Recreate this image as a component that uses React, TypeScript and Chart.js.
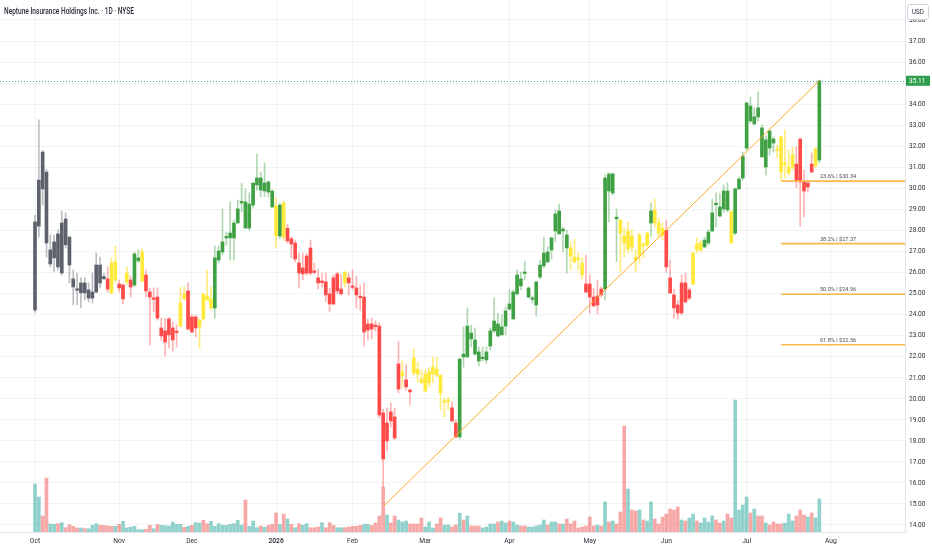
import React, { useEffect, useRef } from 'react';
import { Chart, registerables } from 'chart.js';

Chart.register(...registerables);

const TITLE = 'Neptune Insurance Holdings Inc. · 1D · NYSE';

const opens = [
  24.21, 28.2, 31.72, 30.77, 26.4, 26.69, 27.83, 25.97, 28.54, 27.68,
  25.69, 25.2, 25.03, 25.5, 24.78, 24.78, 25.07, 26.35, 25.8, 25.69,
  26.45, 25.64, 25.45, 25.4, 25.55, 25.64, 25.4, 26.55, 26.97, 25.88,
  25.07, 24.78, 24.83, 23.36, 23.22, 23.79, 23.36, 23.2, 23.45, 24.74,
  25.12, 23.88, 23.88, 23.74, 23.79, 24.69, 24.74, 24.31, 26.59, 26.97,
  27.64, 27.64, 27.64, 28.35, 29.3, 28.11, 28.11, 29.2, 30.16, 29.92,
  29.87, 29.82, 29.11, 29.16, 27.73, 29.3, 28.1, 27.6, 27.4, 26.45,
  26.21, 26.78, 27.16, 26.05, 25.74, 25.58, 25.55, 24.98, 25.74, 25.93,
  25.21, 25.5, 25.74, 25.33, 25.26, 24.86, 24.83, 23.55, 23.55, 23.48,
  23.45, 19.32, 18.84, 19.37, 19.13, 21.65, 21.08, 20.89, 20.41, 21.22,
  21.41, 20.93, 20.36, 20.75, 21.17, 21.41, 21.12, 19.86, 19.87, 19.56,
  18.84, 18.18, 21.98, 21.98, 22.84, 22.12, 21.79, 21.9, 21.84, 22.5,
  23.22, 22.98, 23.03, 23.45, 24.26, 23.79, 24.98, 25.36, 25.95, 24.83,
  24.72, 24.45, 25.78, 26.31, 26.5, 27.07, 27.97, 27.83, 27.97, 27.16,
  27.16, 26.73, 26.66, 26.45, 25.45, 25.45, 24.83, 24.88, 25.21, 25.21,
  29.87, 29.78, 28.55, 28.49, 27.73, 27.11, 27.73, 26.73, 26.83, 27.32,
  27.3, 28.35, 28.97, 28.35, 28.1, 28.0, 25.74, 24.93, 24.45, 25.5,
  25.5, 25.17, 25.45, 27.07, 27.4, 27.21, 27.4, 27.97, 29.22, 28.68,
  29.02, 28.97, 28.87, 27.87, 29.97, 30.49, 31.91, 33.2, 33.06, 33.39,
  31.49, 31.01, 31.91, 32.15, 31.84, 32.44, 31.17, 31.01, 31.01, 31.15,
  32.34, 30.3, 30.25, 31.15, 31.06, 31.34,
];

const highs = [
  28.73, 33.25, 31.8, 30.9, 27.78, 27.78, 28.02, 28.92, 28.83, 27.7,
  26.12, 25.97, 25.74, 25.74, 25.5, 25.97, 26.92, 26.73, 25.97, 26.26,
  26.69, 27.26, 25.64, 25.45, 26.26, 25.83, 26.97, 27.07, 27.16, 26.12,
  25.26, 25.26, 25.26, 23.83, 23.83, 23.88, 23.64, 23.5, 25.31, 25.31,
  25.5, 23.98, 23.98, 23.79, 24.98, 26.12, 25.31, 27.26, 27.26, 29.02,
  27.92, 29.35, 28.49, 29.44, 30.25, 29.97, 29.78, 30.25, 31.63, 30.77,
  31.2, 30.35, 29.92, 29.54, 29.3, 29.4, 28.3, 27.7, 27.54, 26.92,
  26.92, 26.92, 27.54, 26.45, 26.16, 25.97, 25.97, 25.26, 25.88, 26.02,
  25.88, 26.02, 25.97, 26.12, 25.83, 25.4, 25.5, 23.79, 23.83, 23.7,
  23.6, 19.5, 19.56, 19.79, 19.56, 22.74, 21.79, 21.6, 20.46, 22.36,
  21.74, 21.36, 21.36, 21.46, 21.98, 21.98, 21.12, 20.03, 20.08, 19.84,
  18.99, 21.93, 23.41, 24.31, 23.5, 23.36, 22.46, 22.46, 22.46, 23.36,
  24.79, 24.07, 23.98, 24.36, 25.17, 25.17, 26.12, 26.02, 26.54, 25.31,
  24.88, 25.55, 26.59, 27.68, 27.21, 27.68, 28.97, 29.25, 28.16, 28.02,
  27.45, 27.59, 26.92, 26.69, 26.83, 25.88, 25.26, 25.64, 25.31, 30.63,
  30.73, 30.73, 29.02, 28.49, 28.11, 28.4, 28.02, 27.07, 27.87, 27.4,
  27.92, 29.3, 29.49, 28.59, 28.35, 28.49, 26.59, 25.21, 24.69, 25.88,
  25.97, 25.26, 26.97, 27.64, 27.54, 27.68, 28.02, 29.49, 29.78, 29.73,
  30.16, 30.25, 28.97, 30.02, 30.54, 31.72, 34.1, 34.34, 33.82, 34.58,
  33.01, 32.49, 32.77, 32.44, 32.06, 32.49, 32.77, 31.82, 31.96, 31.96,
  32.39, 30.87, 30.39, 31.68, 31.92, 35.15,
];

const lows = [
  24.1, 27.68, 29.2, 26.73, 26.26, 26.02, 26.12, 25.88, 27.16, 25.5,
  24.45, 24.45, 24.31, 24.69, 24.6, 24.55, 25.03, 25.26, 25.64, 25.07,
  24.98, 25.55, 25.07, 24.5, 25.4, 24.83, 25.31, 26.45, 25.55, 24.83,
  22.55, 24.12, 23.74, 22.79, 22.03, 22.41, 22.26, 22.45, 23.41, 24.69,
  23.26, 23.12, 22.93, 22.41, 23.74, 24.69, 24.21, 23.83, 26.45, 26.83,
  27.3, 26.59, 26.59, 28.35, 28.87, 28.11, 28.02, 29.06, 29.9, 29.59,
  29.6, 29.59, 29.11, 27.16, 27.6, 27.5, 27.4, 26.7, 26.5, 25.26,
  25.64, 25.88, 25.88, 25.93, 25.21, 25.31, 24.6, 24.12, 24.45, 24.98,
  24.93, 25.31, 24.93, 25.17, 24.31, 24.21, 22.5, 22.79, 22.84, 23.2,
  19.1, 15.8, 17.52, 18.65, 18.04, 20.27, 20.51, 20.41, 19.7, 21.12,
  20.79, 20.75, 20.32, 20.55, 20.75, 21.03, 19.46, 19.13, 19.46, 18.89,
  18.13, 18.08, 21.5, 21.98, 22.46, 22.07, 21.55, 21.79, 21.69, 22.31,
  23.12, 22.93, 23.03, 23.03, 24.21, 23.74, 24.93, 25.17, 25.64, 24.79,
  24.55, 23.93, 25.69, 26.21, 26.45, 26.64, 27.45, 27.83, 26.97, 25.97,
  26.12, 26.45, 26.12, 25.69, 25.02, 24.07, 24.36, 24.02, 24.83, 24.69,
  28.4, 29.68, 26.5, 26.02, 26.73, 26.92, 26.97, 26.02, 26.45, 26.69,
  27.21, 27.7, 28.16, 27.68, 27.54, 26.02, 25.02, 23.83, 23.79, 23.98,
  24.55, 24.69, 25.4, 26.92, 26.97, 27.16, 27.3, 27.92, 28.16, 28.64,
  28.87, 28.87, 27.4, 27.78, 29.92, 30.39, 31.82, 33.1, 33.01, 33.2,
  31.49, 30.63, 31.58, 31.72, 31.44, 30.39, 30.49, 30.63, 30.87, 30.01,
  28.21, 28.64, 29.82, 30.73, 30.99, 31.2,
];

const closes = [
  28.4, 30.39, 29.97, 27.4, 27.07, 27.45, 26.26, 28.35, 27.31, 26.35,
  25.31, 25.15, 25.5, 25.03, 25.17, 25.07, 26.35, 25.5, 25.7, 25.21,
  25.03, 26.5, 25.26, 24.74, 25.97, 25.31, 26.88, 26.69, 25.59, 25.12,
  24.83, 24.72, 23.83, 22.98, 22.69, 23.03, 22.79, 23.14, 24.55, 24.98,
  23.31, 23.17, 23.36, 23.41, 24.98, 24.88, 24.31, 26.69, 27.02, 27.45,
  27.7, 27.87, 28.35, 29.02, 29.38, 29.35, 29.25, 30.25, 30.49, 30.49,
  30.25, 30.3, 29.87, 27.73, 29.2, 27.68, 27.5, 27.35, 26.64, 25.97,
  25.93, 25.97, 25.97, 26.0, 25.5, 25.52, 24.93, 24.5, 24.5, 25.12,
  24.98, 26.02, 25.5, 25.29, 24.93, 24.8, 23.17, 23.26, 23.31, 23.42,
  19.22, 17.13, 17.99, 18.94, 18.13, 20.46, 21.27, 20.56, 20.32, 21.93,
  21.17, 20.75, 21.17, 21.27, 21.5, 21.12, 20.27, 19.82, 19.91, 18.94,
  18.18, 21.88, 22.12, 23.45, 23.12, 22.79, 22.22, 21.96, 22.22, 23.22,
  23.69, 23.55, 23.41, 24.17, 24.5, 25.07, 25.88, 25.69, 25.99, 25.26,
  24.76, 25.55, 26.35, 26.92, 26.97, 27.64, 28.78, 28.92, 28.06, 27.78,
  26.78, 26.5, 26.62, 25.88, 25.07, 24.83, 24.41, 24.45, 24.93, 30.49,
  30.68, 30.68, 28.63, 27.87, 27.4, 27.97, 27.21, 26.59, 27.78, 27.28,
  27.87, 28.92, 28.35, 27.87, 27.75, 26.26, 25.02, 24.31, 24.07, 24.07,
  24.6, 24.78, 26.92, 27.35, 27.07, 27.54, 27.92, 28.83, 29.28, 29.11,
  29.87, 29.87, 27.4, 29.97, 30.44, 31.53, 34.05, 33.91, 33.39, 33.82,
  32.87, 32.3, 32.72, 32.34, 31.8, 30.77, 31.13, 30.73, 31.58, 30.35,
  30.3, 29.87, 30.06, 30.77, 31.87, 35.11,
];

// candle colour runs: k = grey, r = red, y = yellow, g = green
const colorRuns: [string, number][] = [
  ['k', 19], ['r', 1], ['y', 2], ['r', 2], ['y', 1], ['r', 1], ['g', 2], ['y', 1],
  ['r', 9], ['y', 2], ['r', 3], ['y', 4], ['g', 16], ['y', 1], ['g', 1], ['y', 1],
  ['r', 15], ['y', 1], ['r', 14], ['y', 1], ['r', 2], ['y', 10], ['r', 2], ['g', 29],
  ['y', 4], ['r', 5], ['g', 4], ['y', 8], ['g', 1], ['y', 3], ['r', 7], ['y', 3],
  ['g', 7], ['y', 1], ['g', 11], ['y', 5], ['r', 5], ['y', 1], ['g', 1],
];

// volume (thousand shares)
const volumes = [
  480, 350, 160, 540, 80, 77, 83, 93, 43, 73,
  57, 40, 40, 33, 33, 67, 83, 67, 67, 60,
  57, 57, 77, 107, 40, 50, 57, 23, 23, 27,
  67, 33, 77, 67, 63, 60, 100, 77, 77, 47,
  57, 67, 93, 90, 117, 83, 107, 57, 83, 67,
  67, 77, 83, 117, 70, 320, 57, 110, 43, 60,
  50, 67, 77, 190, 77, 180, 130, 77, 43, 83,
  67, 83, 43, 43, 50, 93, 43, 93, 67, 43,
  43, 43, 50, 57, 57, 67, 77, 77, 67, 90,
  160, 450, 170, 90, 160, 120, 100, 110, 80, 80,
  80, 140, 50, 100, 40, 80, 140, 70, 70, 50,
  70, 190, 120, 160, 60, 60, 60, 40, 50, 80,
  80, 100, 110, 90, 110, 100, 70, 60, 60, 50,
  50, 60, 70, 120, 70, 100, 100, 80, 80, 130,
  80, 110, 40, 50, 60, 150, 60, 70, 60, 300,
  100, 110, 80, 200, 1060, 430, 220, 210, 220, 120,
  110, 300, 130, 80, 150, 180, 230, 220, 250, 120,
  110, 140, 180, 110, 90, 140, 100, 160, 120, 90,
  110, 180, 140, 1320, 220, 270, 350, 190, 230, 160,
  160, 90, 70, 100, 80, 80, 90, 180, 110, 160,
  220, 170, 150, 190, 140, 330,
];

// u = up-volume, d = down-volume
const volumeDir = [
  'uudduududd', 'dduduuuddd', 'duduuuuuud', 'duduuuuuud', 'uduudduuuu',
  'uuuuuduuud', 'udddududud', 'uudddudddu', 'uddddduudd', 'ddudduuudd',
  'dduuudduud', 'dududdduuu', 'uduuduuddu', 'uuuuduudud', 'dddddddudu',
  'duddduddud', 'uudddddddu', 'duuduuuudd', 'udduuuudud', 'dudddduuud',
  'dduduu',
].join('');

const monthTicks = [0, 22, 41, 63, 83, 102, 124, 145, 165, 186, 208];
const monthLabels = ['Oct', 'Nov', 'Dec', '2026', 'Feb', 'Mar', 'Apr', 'May', 'Jun', 'Jul', 'Aug'];
const priceTicks = [14, 15, 16, 17, 18, 19, 20, 21, 22, 23, 24, 25, 26, 27, 28, 29, 30, 31, 32, 33, 34, 35, 36, 37, 38];

const fibPcts = ['23.6%', '38.2%', '50.0%', '61.8%'];
const fibPrices = [30.34, 27.37, 24.96, 22.56];
const fibStartIndex = 195;

const trendIndex = [91, 205];
const trendPrice = [14.87, 35.11];

const lastPrice = 35.11;

const X_MIN = -9.15;
const X_MAX = 227.39;
const Y_MIN = 13.66;
const Y_MAX = 38.95;
const VOL_MAX = 5320;

const BODY: Record<string, string> = { k: '#5d616c', r: '#ff4a4a', y: '#ffe93b', g: '#40a144' };
const WICK: Record<string, string> = {
  k: 'rgba(93,97,108,0.42)',
  r: 'rgba(255,74,74,0.42)',
  y: 'rgba(255,222,40,0.6)',
  g: 'rgba(64,161,68,0.42)',
};

const candleColors: string[] = [];
colorRuns.forEach(([c, n]) => {
  for (let k = 0; k < n; k++) candleColors.push(c);
});

const GRID = 'rgba(42,46,57,0.06)';

function drawText(
  ctx: CanvasRenderingContext2D,
  s: string,
  x: number,
  y: number,
  font: string,
  color: string,
  align: CanvasTextAlign,
  squeeze = 0.86,
  baseline: CanvasTextBaseline = 'middle'
) {
  ctx.font = font;
  ctx.fillStyle = color;
  ctx.textAlign = align;
  ctx.textBaseline = baseline;
  const w = ctx.measureText(s).width;
  ctx.fillText(s, x, y, w * squeeze);
}

const overlayPlugin = {
  id: 'overlay',
  beforeDatasetsDraw(chart: any) {
    const { ctx, chartArea, scales } = chart;
    const ly = Math.round(scales.y.getPixelForValue(lastPrice)) + 0.5;
    ctx.save();
    ctx.strokeStyle = '#3fb0a3';
    ctx.lineWidth = 1;
    ctx.setLineDash([1, 2]);
    ctx.beginPath();
    ctx.moveTo(chartArea.left, ly);
    ctx.lineTo(chartArea.right, ly);
    ctx.stroke();
    ctx.restore();
  },
  afterDraw(chart: any) {
    const { ctx, chartArea, scales } = chart;
    const xs = scales.x;
    const ys = scales.y;
    ctx.save();

    // title
    ctx.font = '500 8.6px Roboto';
    ctx.fillStyle = '#2a2e39';
    ctx.textAlign = 'left';
    ctx.textBaseline = 'middle';
    ctx.fillText(TITLE, 4, 11.5, 130);

    // price axis labels
    const axisX = chartArea.right + 4;
    priceTicks.forEach((v) => {
      drawText(ctx, v.toFixed(2), axisX, ys.getPixelForValue(v), '7.6px Roboto', '#2a2e39', 'left', 0.86);
    });

    // month labels
    monthTicks.forEach((t, i) => {
      const bold = monthLabels[i] === '2026';
      drawText(
        ctx,
        monthLabels[i],
        xs.getPixelForValue(t),
        chartArea.bottom + 9,
        (bold ? '600 ' : '') + '7.8px Roboto',
        '#2a2e39',
        'center',
        0.86
      );
    });

    // fib labels
    const fx0 = xs.getPixelForValue(fibStartIndex);
    const fcx = fx0 + (chartArea.right - fx0) * 0.46;
    fibPrices.forEach((p, i) => {
      const py = ys.getPixelForValue(p);
      drawText(ctx, `${fibPcts[i]} | $${p.toFixed(2)}`, fcx, py - 1.5, '6.2px Roboto', '#4a4e59', 'center', 0.9, 'bottom');
    });

    // last price label
    const ly = ys.getPixelForValue(lastPrice);
    ctx.fillStyle = '#2e9e4c';
    ctx.fillRect(chartArea.right + 1, ly - 5, 24, 10);
    drawText(ctx, lastPrice.toFixed(2), axisX, ly, '7.6px Roboto', '#ffffff', 'left', 0.86);

    // currency box
    const bx = chartArea.right + 2.5;
    ctx.fillStyle = '#ffffff';
    ctx.strokeStyle = '#d1d4dc';
    ctx.lineWidth = 1;
    ctx.beginPath();
    if ((ctx as any).roundRect) (ctx as any).roundRect(bx, 4.5, 21, 15, 2);
    else ctx.rect(bx, 4.5, 21, 15);
    ctx.fill();
    ctx.stroke();
    drawText(ctx, 'USD', bx + 10.5, 12.3, '7px Roboto', '#2a2e39', 'center', 0.9);

    ctx.restore();
  },
};

export default function App() {
  const ref = useRef<HTMLCanvasElement>(null);

  useEffect(() => {
    document.body.style.margin = '0';
    const idx = opens.map((_, i) => i);

    const wickData = idx.map((i) => ({ x: i, y: [lows[i], highs[i]] }));
    const bodyData = idx.map((i) => ({
      x: i,
      y: [Math.min(opens[i], closes[i]), Math.max(opens[i], closes[i])],
    }));
    const volData = idx.map((i) => ({ x: i, y: volumes[i] }));

    const chart = new Chart(ref.current as HTMLCanvasElement, {
      type: 'bar',
      data: {
        datasets: [
          {
            type: 'bar',
            data: volData as any,
            yAxisID: 'yVol',
            backgroundColor: idx.map((i) =>
              volumeDir[i] === 'u' ? 'rgba(38,166,154,0.5)' : 'rgba(239,83,80,0.5)'
            ),
            barThickness: 3,
            grouped: false,
            order: 6,
          } as any,
          {
            type: 'bar',
            data: wickData as any,
            yAxisID: 'y',
            backgroundColor: idx.map((i) => WICK[candleColors[i] || 'g']),
            barThickness: 1,
            grouped: false,
            order: 5,
          } as any,
          {
            type: 'bar',
            data: bodyData as any,
            yAxisID: 'y',
            backgroundColor: idx.map((i) => BODY[candleColors[i] || 'g']),
            barThickness: 3,
            minBarLength: 1.5,
            grouped: false,
            order: 4,
          } as any,
          {
            type: 'line',
            data: trendIndex.map((t, i) => ({ x: t, y: trendPrice[i] })),
            yAxisID: 'y',
            borderColor: '#ffa726',
            borderWidth: 1,
            pointRadius: 0,
            order: 2,
          } as any,
          ...fibPrices.map(
            (p) =>
              ({
                type: 'line',
                data: [
                  { x: fibStartIndex, y: p },
                  { x: X_MAX, y: p },
                ],
                yAxisID: 'y',
                borderColor: '#ffb74d',
                borderWidth: 1.6,
                pointRadius: 0,
                order: 1,
              } as any)
          ),
        ],
      },
      options: {
        animation: false,
        responsive: false,
        maintainAspectRatio: false,
        layout: { padding: 0 },
        plugins: {
          legend: { display: false },
          tooltip: { enabled: false },
        },
        scales: {
          x: {
            type: 'linear',
            min: X_MIN,
            max: X_MAX,
            offset: false,
            grid: { color: GRID, drawTicks: false, offset: false },
            border: { display: true, color: '#e0e3eb' },
            ticks: { display: false },
            afterBuildTicks: (s: any) => {
              s.ticks = monthTicks.map((v) => ({ value: v }));
            },
            afterFit: (s: any) => {
              s.height = 18;
            },
          },
          y: {
            type: 'linear',
            position: 'right',
            min: Y_MIN,
            max: Y_MAX,
            grid: { color: GRID, drawTicks: false },
            border: { display: true, color: '#e0e3eb' },
            ticks: { display: false },
            afterBuildTicks: (s: any) => {
              s.ticks = priceTicks.map((v) => ({ value: v }));
            },
            afterFit: (s: any) => {
              s.width = 27;
            },
          },
          yVol: {
            type: 'linear',
            display: false,
            min: 0,
            max: VOL_MAX,
          },
        },
      } as any,
      plugins: [overlayPlugin],
    });
    return () => chart.destroy();
  }, []);

  return (
    <div style={{ position: 'fixed', left: 0, top: 0, width: 932, height: 550, background: '#ffffff' }}>
      <canvas ref={ref} width={932} height={550} style={{ width: 932, height: 550, display: 'block' }} />
    </div>
  );
}
